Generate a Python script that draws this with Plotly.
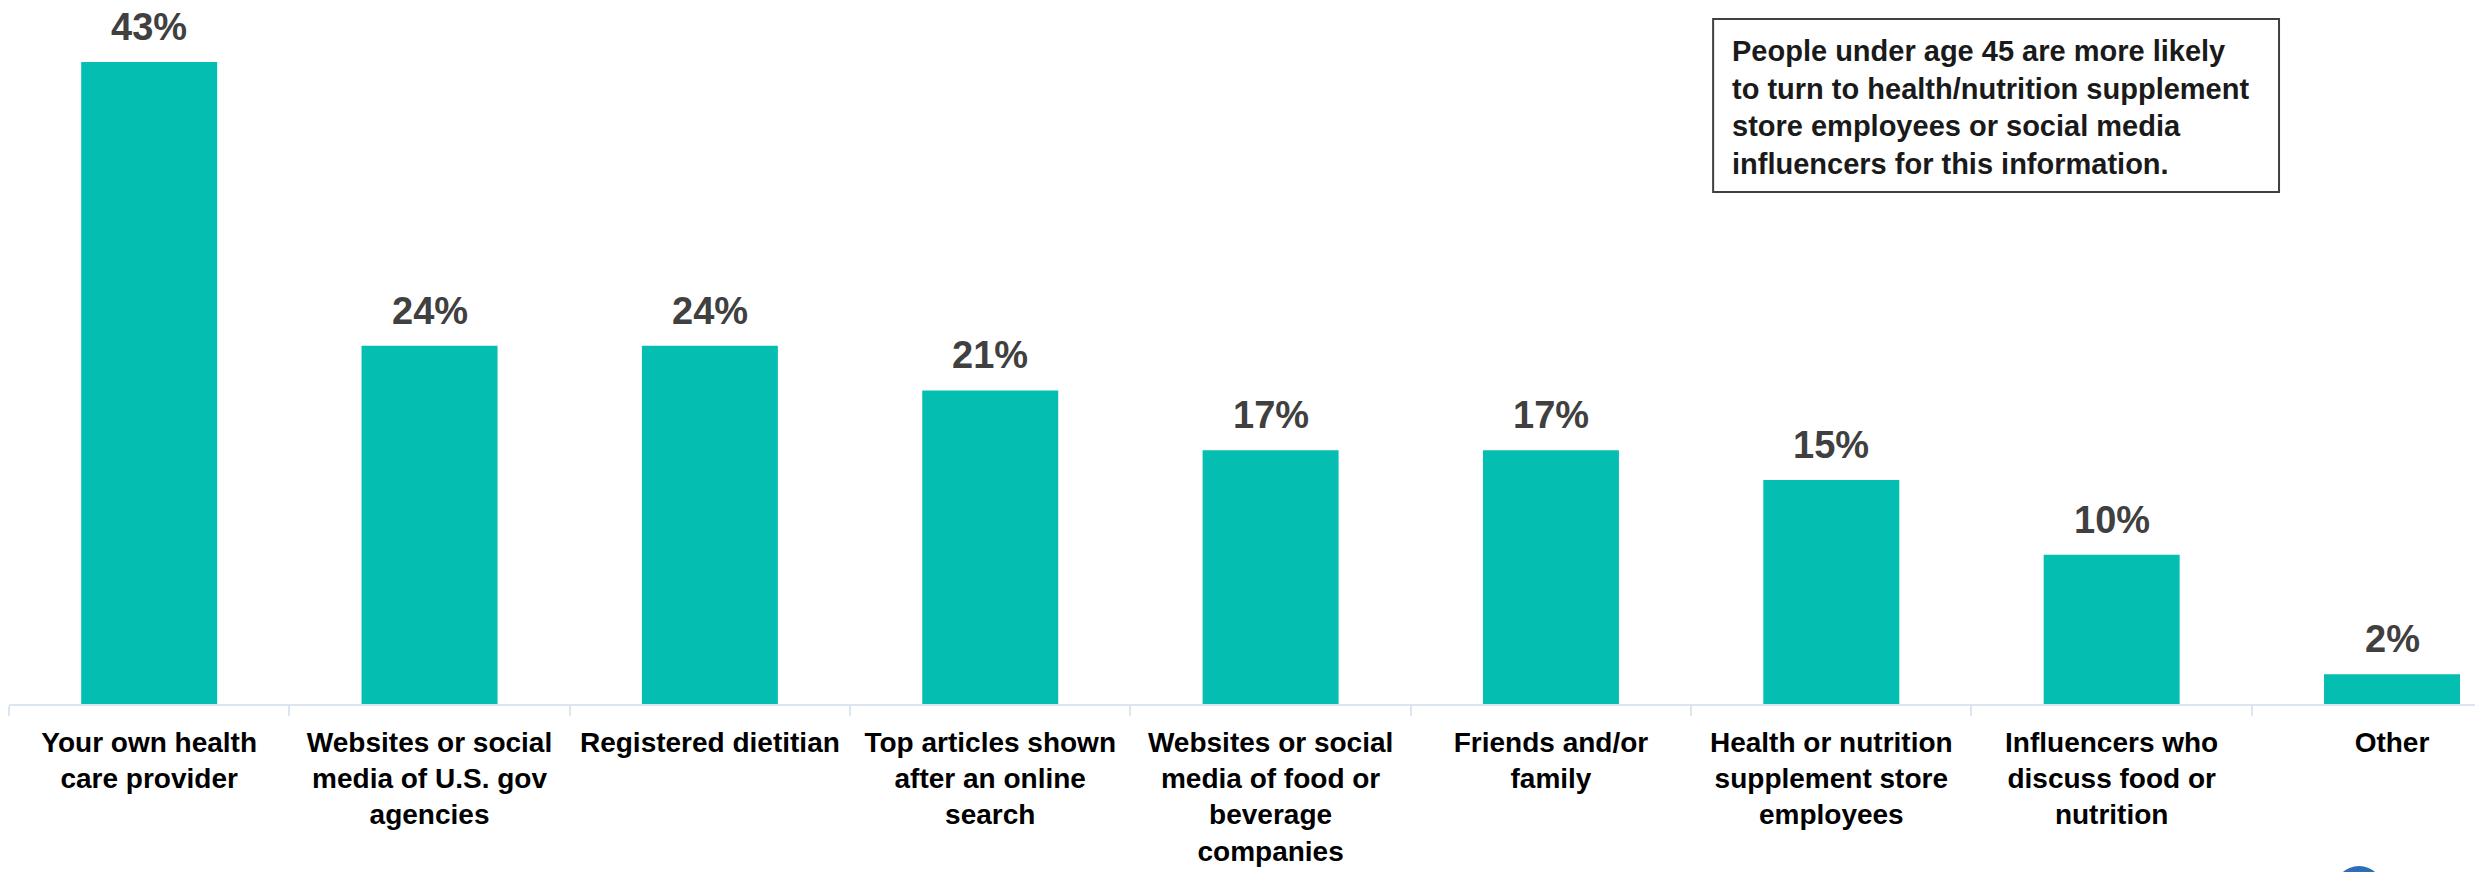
import plotly.graph_objects as go

# Survey: where people turn for information about food and nutrition
categories = [
    "Your own health<br>care provider",
    "Websites or social<br>media of U.S. gov<br>agencies",
    "Registered dietitian",
    "Top articles shown<br>after an online<br>search",
    "Websites or social<br>media of food or<br>beverage<br>companies",
    "Friends and/or<br>family",
    "Health or nutrition<br>supplement store<br>employees",
    "Influencers who<br>discuss food or<br>nutrition",
    "Other",
]
shares = [43, 24, 24, 21, 17, 17, 15, 10, 2]
value_labels = [f"{v}%" for v in shares]

note_text = (
    "People under age 45 are more likely<br>"
    "to turn to health/nutrition supplement<br>"
    "store employees or social media<br>"
    "influencers for this information."
)

FONT = "Liberation Sans"
BAR_COLOR = "#04BEB1"
AXIS_COLOR = "#DCE6F2"

W, H = 2475, 872
M_L, M_R, M_T, M_B = 8.6, 0, 0, 168
CAT_W = 280.4  # pixel width of one category slot

fig = go.Figure(
    go.Bar(
        x=categories,
        y=shares,
        marker=dict(color=BAR_COLOR, line=dict(width=0)),
        hoverinfo="skip",
    )
)

# value labels above each bar
for cat, val, lab in zip(categories, shares, value_labels):
    fig.add_annotation(
        x=cat, y=val, xref="x", yref="y",
        text=lab, showarrow=False,
        xanchor="center", yanchor="bottom", yshift=12,
        font=dict(family=FONT, size=38, color="#404040", weight="bold"),
    )

plot_w = W - M_L - M_R
plot_h = H - M_T - M_B

def px_x(p):
    return (p - M_L) / plot_w

def px_y(p):
    return (plot_h - (p - M_T)) / plot_h

# callout box
fig.add_shape(
    type="rect", xref="paper", yref="paper",
    x0=px_x(1713), x1=px_x(2279), y0=px_y(192), y1=px_y(19),
    line=dict(color="#404040", width=2), fillcolor="white", layer="above",
)
fig.add_annotation(
    xref="paper", yref="paper", x=px_x(1730), y=px_y(33),
    xanchor="left", yanchor="top", align="left",
    text=note_text, showarrow=False,
    font=dict(family=FONT, size=29, color="#1A1A1A", weight="bold"),
)

# partially visible logo mark in the corner
fig.add_shape(
    type="circle", xref="paper", yref="paper",
    x0=px_x(2334), x1=px_x(2384), y0=px_y(917), y1=px_y(866),
    line=dict(width=0), fillcolor="#2F6DB5",
)

n_slots = (W - M_L - M_R) / CAT_W
fig.update_layout(
    width=W, height=H,
    margin=dict(l=M_L, r=M_R, t=M_T, b=M_B, pad=0),
    paper_bgcolor="white", plot_bgcolor="white",
    bargap=0.515,
    showlegend=False,
    xaxis=dict(
        range=[-0.5, -0.5 + n_slots],
        showgrid=False, zeroline=False,
        showline=True, linecolor=AXIS_COLOR, linewidth=2,
        ticks="outside", tickson="boundaries", ticklen=10, tickwidth=2,
        tickcolor=AXIS_COLOR, ticklabelstandoff=12,
        tickfont=dict(family=FONT, size=28, color="black", weight="bold"),
        tickangle=0,
    ),
    yaxis=dict(
        range=[0, 704 / 14.93],
        visible=False, showgrid=False, zeroline=False,
    ),
)

fig.write_html("out.html")
